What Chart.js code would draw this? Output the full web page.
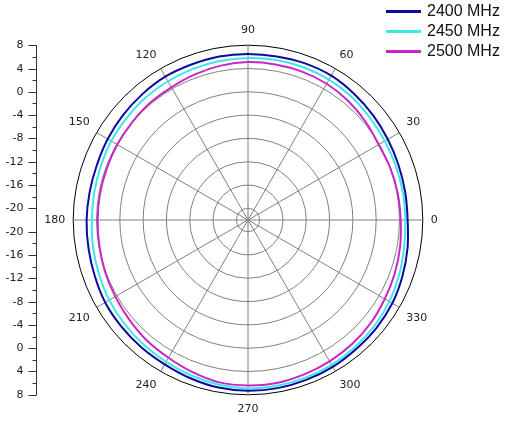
<!DOCTYPE html>
<html>
<head>
<meta charset="utf-8">
<script src="https://cdn.jsdelivr.net/npm/chart.js@4"></script>
<style>
  body { margin: 0; background: #fff; }
  .wrap { position: relative; width: 508px; height: 433px; }
  #legend { position: absolute; left: 386px; top: 1px; font: 16px "Liberation Sans", Arial, sans-serif; color: #111; }
  #legend .row { height: 20px; display: flex; align-items: center; }
  #legend .line { display: inline-block; width: 35px; height: 3px; margin-right: 6px; }
</style>
</head>
<body>
<div class="wrap">
  <canvas id="pattern"></canvas>
  <div id="legend"></div>
</div>
<script>
// angles in degrees, counter-clockwise from the right
const angles = [0, 10, 20, 30, 40, 50, 60, 70, 80, 90, 100, 110, 120, 130, 140, 150, 160, 170,
                180, 190, 200, 210, 220, 230, 240, 250, 260, 270, 280, 290, 300, 310, 320, 330, 340, 350];

// gain in dB at each angle
const gain2400 = [5.4, 5.4, 5.5, 5.7, 6.0, 6.3, 6.6, 6.6, 6.5, 6.5, 6.5, 6.4, 6.4, 6.2, 6.0, 5.8, 5.6, 5.6,
                  5.7, 5.8, 6.0, 6.3, 6.4, 6.5, 6.6, 6.9, 7.2, 7.3, 7.3, 7.2, 7.1, 6.9, 6.8, 6.6, 6.2, 5.8];
const gain2450 = [5.0, 5.0, 5.0, 5.1, 5.3, 5.6, 5.8, 5.9, 5.9, 5.8, 5.7, 5.6, 5.5, 5.4, 5.2, 5.1, 4.9, 4.8,
                  4.8, 5.0, 5.2, 5.5, 5.7, 5.9, 6.1, 6.4, 6.7, 6.9, 6.9, 6.8, 6.7, 6.5, 6.3, 6.0, 5.6, 5.2];
const gain2500 = [4.2, 4.1, 4.0, 3.9, 4.3, 4.7, 5.0, 5.1, 5.1, 5.1, 4.9, 4.6, 4.3, 4.2, 4.0, 3.9, 3.8, 3.8,
                  3.8, 3.9, 4.1, 4.3, 4.6, 5.0, 5.3, 5.8, 6.3, 6.4, 6.4, 6.2, 6.0, 5.8, 5.5, 5.1, 4.8, 4.5];

const seriesNames = ['2400 MHz', '2450 MHz', '2500 MHz'];
const seriesColors = ['#0a0a9e', '#3ee6e8', '#c826c8'];

const angleLabels = [0, 30, 60, 90, 120, 150, 180, 210, 240, 270, 300, 330];
const radialTicks = [-20, -16, -12, -8, -4, 0, 4, 8];
const minorTicks = [-18, -14, -10, -6, -2, 2, 6];
const radialMin = -22;
const radialMax = 8;

// radar goes clockwise, the plot goes counter-clockwise: walk the angles backwards
const order = angles.map((a, i) => (angles.length - i) % angles.length);
const allGains = [gain2400, gain2450, gain2500];

// dB scale drawn down the left side, mirrored around the centre
const leftAxis = {
    id: 'leftAxis',
    afterDraw(chart) {
        const s = chart.scales.r;
        const ctx = chart.ctx;
        const x = 36.5;
        const cy = s.yCenter;
        const full = s.getDistanceFromCenterForValue(s.max);

        ctx.save();
        ctx.strokeStyle = '#333';
        ctx.lineWidth = 1;
        ctx.beginPath();
        ctx.moveTo(x, Math.round(cy - full));
        ctx.lineTo(x, Math.round(cy + full));
        ctx.stroke();

        ctx.beginPath();
        minorTicks.forEach(v => {
            const d = s.getDistanceFromCenterForValue(v);
            [cy - d, cy + d].forEach(y => {
                const yy = Math.round(y) + 0.5;
                ctx.moveTo(x - 4, yy);
                ctx.lineTo(x, yy);
            });
        });
        radialTicks.forEach(v => {
            const d = s.getDistanceFromCenterForValue(v);
            [cy - d, cy + d].forEach(y => {
                const yy = Math.round(y) + 0.5;
                ctx.moveTo(x - 8, yy);
                ctx.lineTo(x, yy);
            });
        });
        ctx.stroke();

        ctx.fillStyle = '#222';
        ctx.font = '11px "DejaVu Sans"';
        ctx.textAlign = 'right';
        ctx.textBaseline = 'middle';
        radialTicks.forEach(v => {
            const d = s.getDistanceFromCenterForValue(v);
            ctx.fillText(String(v), x - 13, Math.round(cy - d));
            ctx.fillText(String(v), x - 13, Math.round(cy + d));
        });
        ctx.restore();
    }
};

const chart = new Chart(document.getElementById('pattern'), {
    type: 'radar',
    data: {
        labels: order.map(k => angles[k]),
        datasets: seriesNames.map((name, i) => ({
            label: name,
            data: order.map(k => allGains[i][k]),
            borderColor: seriesColors[i],
            backgroundColor: seriesColors[i],
            borderWidth: 2,
            fill: false,
            pointRadius: 0
        }))
    },
    options: {
        responsive: true,
        maintainAspectRatio: false,
        animation: false,
        layout: { padding: { left: 0, right: 12, top: 24, bottom: 16 } },
        plugins: {
            legend: { display: false },
            tooltip: { enabled: false }
        },
        elements: { line: { tension: 0.35 } },
        scales: {
            r: {
                min: radialMin,
                max: radialMax,
                startAngle: 90,
                afterBuildTicks: scale => {
                    scale.ticks = [radialMin, ...radialTicks].map(v => ({ value: v }));
                },
                ticks: { display: false },
                grid: {
                    circular: true,
                    lineWidth: 1,
                    color: c => (c.tick && c.tick.value === radialMax) ? '#000' : '#808080'
                },
                angleLines: {
                    color: '#808080',
                    lineWidth: c => c.label ? 1 : 0
                },
                pointLabels: {
                    padding: 8,
                    color: '#222',
                    font: { family: 'DejaVu Sans', size: 11 },
                    callback: v => angleLabels.includes(v) ? String(v) : ''
                }
            }
        }
    },
    plugins: [leftAxis]
});

// legend in the top right corner
const legend = document.getElementById('legend');
chart.data.datasets.forEach(ds => {
    const row = document.createElement('div');
    row.className = 'row';
    row.innerHTML = `<span class="line" style="background:${ds.borderColor}"></span>${ds.label}`;
    legend.appendChild(row);
});
</script>
</body>
</html>
